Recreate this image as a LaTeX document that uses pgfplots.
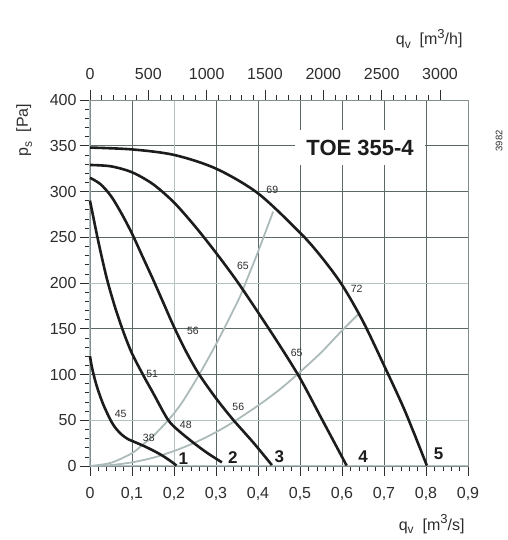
\documentclass[border=0pt]{standalone}
\usepackage{pgfplots}
\pgfplotsset{compat=1.18}
\usepackage{fontspec}
\setmainfont{Liberation Sans}
\definecolor{gridd}{RGB}{90,104,104}
\definecolor{gridl}{RGB}{180,194,194}
\definecolor{sysc}{RGB}{172,186,186}
\definecolor{txt}{RGB}{45,45,45}
\definecolor{crv}{RGB}{28,28,28}
\newcommand{\lab}[1]{{\fontsize{10.5}{12}\selectfont #1}}
\newcommand{\bignum}[1]{{\fontsize{17}{19}\selectfont\bfseries #1}}
\begin{document}
\begin{tikzpicture}[x=1pt,y=1pt]
\path[use as bounding box] (-90,-74) rectangle (417,466);
\begin{axis}[
  at={(0,0)}, anchor=south west, scale only axis,
  width=378pt, height=366pt,
  xmin=0, xmax=0.9, ymin=0, ymax=400,
  xtick={0,0.1,0.2,0.3,0.4,0.5,0.6,0.7,0.8,0.9},
  xticklabels={0,{0,1},{0,2},{0,3},{0,4},{0,5},{0,6},{0,7},{0,8},{0,9}},
  ytick={0,50,...,400},
  minor x tick num=4, minor y tick num=4,
  xtick pos=left, ytick pos=left,
  tick align=outside,
  major tick length=10pt, minor tick length=5pt,
  tick style={txt, line width=0.6pt},
  grid=major,
  major grid style={gridd, line width=0.7pt},
  axis line style={draw=gridd!75, line width=0.8pt},
  tick label style={font=\fontsize{16}{18}\selectfont, text=txt},
  xticklabel style={yshift=-8pt},
  /pgf/number format/assume math mode=true,
  clip=false,
]
% lighter grid lines
\draw[gridl, line width=0.8pt] (axis cs:0.2,0) -- (axis cs:0.2,400);
\draw[gridl, line width=0.8pt] (axis cs:0,50) -- (axis cs:0.9,50);
\draw[gridl, line width=0.8pt] (axis cs:0,200) -- (axis cs:0.9,200);
\draw[gridl, line width=1pt] (axis cs:0,0) -- (axis cs:0,400);
\draw[gridl, line width=1pt] (axis cs:0,0) -- (axis cs:0.9,0);
% title box
\node[fill=white, inner xsep=11.5pt, inner ysep=9.5pt, text=crv,
      font=\fontsize{22}{24}\selectfont\bfseries] at (axis cs:0.643,348) {TOE 355-4};
% system curves
\addplot[sysc, line width=1.8pt, smooth] coordinates {
 (0,0) (0.05,3.5) (0.1,14) (0.127,24) (0.15,32.5) (0.19,52) (0.22,70) (0.26,100)
 (0.3,133) (0.33,160) (0.356,184) (0.373,203) (0.4,234) (0.436,278)};
\addplot[sysc, line width=1.8pt, smooth] coordinates {
 (0,0) (0.05,1) (0.1,4) (0.15,9) (0.2,16.4) (0.25,25.6) (0.3,37) (0.341,48)
 (0.4,66) (0.45,83) (0.492,99.5) (0.548,123) (0.6,148) (0.639,166)};
% fan curves
\addplot[crv, line width=2.6pt, smooth] coordinates {
 (0,120) (0.005,107) (0.015,89) (0.03,69) (0.048,51) (0.06,42) (0.075,34.5)
 (0.09,29.5) (0.11,25.5) (0.13,21.5) (0.15,17) (0.17,12) (0.19,6) (0.206,0.5)};
\addplot[crv, line width=2.6pt, smooth] coordinates {
 (0,290) (0.02,245) (0.04,205) (0.06,173) (0.08,146) (0.1,123) (0.127,99)
 (0.15,80) (0.185,51) (0.21,39) (0.246,25.5) (0.28,14) (0.314,4)};
\addplot[crv, line width=2.6pt, smooth] coordinates {
 (0,315) (0.025,308) (0.05,295) (0.075,276) (0.1,254) (0.125,229) (0.15,204)
 (0.175,178) (0.2,152) (0.23,124) (0.26,100) (0.3,74) (0.34,51) (0.39,25) (0.433,1)};
\addplot[crv, line width=2.6pt, smooth] coordinates {
 (0,329) (0.05,327.5) (0.1,321) (0.15,308) (0.2,288) (0.25,262) (0.3,233)
 (0.35,202) (0.4,168) (0.45,133) (0.5,96) (0.55,53) (0.611,0.5)};
\addplot[crv, line width=2.6pt, smooth] coordinates {
 (0,348) (0.1,346) (0.2,340) (0.3,325) (0.4,298) (0.5,255) (0.55,229)
 (0.6,198) (0.65,158) (0.7,110) (0.75,60) (0.802,0.5)};
% small labels
\node[text=txt] at (axis cs:0.434,302) {\lab{69}};
\node[text=txt] at (axis cs:0.364,219) {\lab{65}};
\node[text=txt] at (axis cs:0.635,194) {\lab{72}};
\node[text=txt] at (axis cs:0.492,124) {\lab{65}};
\node[text=txt] at (axis cs:0.245,148) {\lab{56}};
\node[text=txt] at (axis cs:0.148,100.5) {\lab{51}};
\node[text=txt] at (axis cs:0.353,65) {\lab{56}};
\node[text=txt] at (axis cs:0.073,56.5) {\lab{45}};
\node[text=txt] at (axis cs:0.228,45) {\lab{48}};
\node[text=txt] at (axis cs:0.140,31) {\lab{38}};
% curve numbers
\node[text=crv] at (axis cs:0.222,8) {\bignum{1}};
\node[text=crv] at (axis cs:0.340,9) {\bignum{2}};
\node[text=crv] at (axis cs:0.451,10) {\bignum{3}};
\node[text=crv] at (axis cs:0.650,10) {\bignum{4}};
\node[text=crv] at (axis cs:0.830,13) {\bignum{5}};
\end{axis}
\begin{axis}[
  at={(0,0)}, anchor=south west, scale only axis,
  width=378pt, height=366pt,
  xmin=0, xmax=3240, ymin=0, ymax=1,
  axis x line*=top, axis y line=none,
  xtick={0,500,...,3000}, minor x tick num=4,
  tick align=outside,
  major tick length=10pt, minor tick length=5pt,
  tick style={txt, line width=0.6pt},
  axis line style={draw=gridd!75, line width=0.8pt},
  tick label style={font=\fontsize{16}{18}\selectfont, text=txt},
  xticklabel style={yshift=7pt},
  /pgf/number format/assume math mode=true,
  /pgf/number format/1000 sep={},
]
\addplot[draw=none] coordinates {(0,0)};
\end{axis}
\node[anchor=base east, text=txt, font=\fontsize{16}{18}\selectfont] at (378,-64)
  {q\raisebox{-0.45ex}{\fontsize{12}{13}\selectfont v}\ \ [m\raisebox{0.75ex}{\fontsize{13}{14}\selectfont 3}/s]};
\node[anchor=base east, text=txt, font=\fontsize{16}{18}\selectfont] at (376,421)
  {q\raisebox{-0.45ex}{\fontsize{12}{13}\selectfont v}\ \ [m\raisebox{0.75ex}{\fontsize{13}{14}\selectfont 3}/h]};
\node[rotate=90, anchor=base, text=txt, font=\fontsize{16}{18}\selectfont] at (-62,336)
  {p\raisebox{-0.45ex}{\fontsize{12}{13}\selectfont s}\ \ [Pa]};
\node[rotate=90, text=txt, font=\fontsize{9.5}{11}\selectfont] at (409,325) {3982};
\end{tikzpicture}
\end{document}
